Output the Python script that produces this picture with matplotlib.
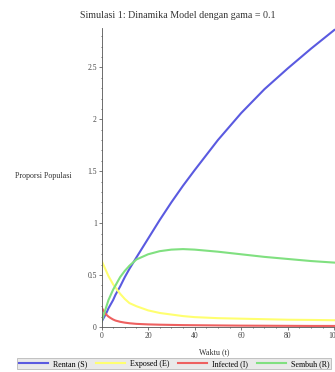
import matplotlib
matplotlib.use('Agg')
import matplotlib.pyplot as plt
from matplotlib.ticker import MultipleLocator

plt.rcParams['font.family'] = 'Liberation Serif'

# data
t = [0, 1, 2, 3, 4, 5, 6, 8, 10, 12, 15, 20, 25, 30, 35, 40, 50, 60, 70, 80, 90, 100]
rentan = [0.05, 0.09, 0.13, 0.18, 0.22, 0.26, 0.31, 0.39, 0.48, 0.56, 0.67, 0.85, 1.03, 1.20,
          1.36, 1.51, 1.80, 2.06, 2.29, 2.49, 2.68, 2.86]
exposed = [0.64, 0.59, 0.54, 0.49, 0.45, 0.41, 0.38, 0.32, 0.27, 0.23, 0.20, 0.16, 0.135, 0.12,
           0.105, 0.095, 0.085, 0.08, 0.075, 0.07, 0.068, 0.065]
infected = [0.19, 0.15, 0.12, 0.10, 0.085, 0.072, 0.062, 0.05, 0.042, 0.036, 0.03, 0.025, 0.022,
            0.02, 0.018, 0.017, 0.015, 0.013, 0.012, 0.011, 0.01, 0.01]
sembuh = [0.05, 0.12, 0.19, 0.26, 0.31, 0.36, 0.40, 0.48, 0.54, 0.59, 0.65, 0.70, 0.73, 0.745,
          0.75, 0.745, 0.725, 0.70, 0.675, 0.655, 0.635, 0.62]

labels = ['Rentan (S)', 'Exposed (E)', 'Infected (I)', 'Sembuh (R)']
colors = ['#5a5ae0', '#ffff70', '#ee6060', '#80e080']
x_ticks = [0, 20, 40, 60, 80, 100]
y_ticks = [0, 0.5, 1, 1.5, 2, 2.5]

fig = plt.figure(figsize=(3.35, 3.72), dpi=100)
ax = fig.add_axes([0.303, 0.121, 0.697, 0.804])

for y, c, lab in zip([rentan, exposed, infected, sembuh], colors, labels):
    ax.plot(t, y, color=c, lw=1.5, label=lab)

ax.set_xlim(0, 100.3)
ax.set_ylim(0, 2.88)
ax.set_xticks(x_ticks)
ax.set_xticklabels([str(v) for v in x_ticks])
ax.set_yticks(y_ticks)
ax.set_yticklabels(['0', '0.5', '1', '1.5', '2', '2.5'])
ax.xaxis.set_minor_locator(MultipleLocator(5))
ax.yaxis.set_minor_locator(MultipleLocator(0.1))
ax.tick_params(labelsize=5.5, length=2, width=0.5, pad=1.5, colors='#444444')
ax.tick_params(which='minor', length=1, width=0.4)
for s in ['top', 'right']:
    ax.spines[s].set_visible(False)
for s in ['left', 'bottom']:
    ax.spines[s].set_linewidth(0.6)
    ax.spines[s].set_color('#555555')

fig.text(0.53, 0.958, 'Simulasi 1: Dinamika Model dengan gama = 0.1', ha='center', va='center',
         fontsize=7.2, color='#333333')
fig.text(0.13, 0.527, 'Proporsi Populasi', ha='center', va='center', fontsize=5.8, color='#333333')
fig.text(0.64, 0.052, 'Waktu (t)', ha='center', va='center', fontsize=5.8, color='#333333')

leg = fig.legend(loc='lower left', bbox_to_anchor=(0.04, -0.004, 0.96, 0.05), mode='expand',
                 ncol=4, fontsize=5.8, frameon=True, fancybox=False, handlelength=3.6,
                 handletextpad=0.6, borderpad=0.2)
leg.get_frame().set_facecolor('#e4e4e4')
leg.get_frame().set_edgecolor('#aaaaaa')
leg.get_frame().set_linewidth(0.6)

fig.savefig('out.png', dpi=100)
